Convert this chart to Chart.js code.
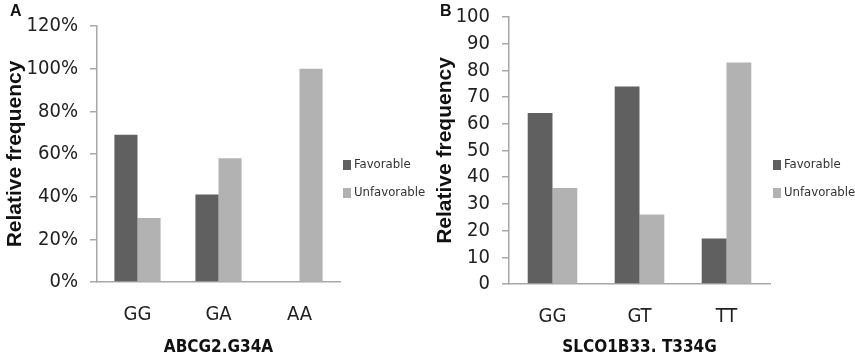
<!DOCTYPE html>
<html>
<head>
<meta charset="utf-8">
<script src="https://cdn.jsdelivr.net/npm/chart.js@4"></script>
<style>
  body { margin: 0; background: #fff; }
  .panel { position: absolute; top: 0; height: 362px; }
  .tag { position: absolute; top: 2px; font: bold 16px "Liberation Sans", Arial, sans-serif; color: #111; }
</style>
</head>
<body>
<div class="panel" style="left:0;width:430px;"><canvas id="chartA"></canvas></div>
<div class="panel" style="left:430px;width:425px;"><canvas id="chartB"></canvas></div>
<div class="tag" style="left:10px;">A</div>
<div class="tag" style="left:440px;">B</div>
<script>
// 패널 A 데이터 (ABCG2.G34A, %)
const genotypesA = ["GG", "GA", "AA"];
const favorableA = [69, 41, 0];
const unfavorableA = [30, 58, 100];
const ticksA = [0, 20, 40, 60, 80, 100, 120];

// 패널 B 데이터 (SLCO1B33. T334G)
const genotypesB = ["GG", "GT", "TT"];
const favorableB = [64, 74, 17];
const unfavorableB = [36, 26, 83];
const ticksB = [0, 10, 20, 30, 40, 50, 60, 70, 80, 90, 100];

const seriesNames = ["Favorable", "Unfavorable"];
const darkGray = "#606060";
const lightGray = "#b2b2b2";
const axisGray = "#a8a8a8";
const narrow = "'Liberation Sans Narrow', 'DejaVu Sans Condensed', sans-serif";

// 차트 오른쪽 범례 (엑셀 스타일)
const sideLegend = {
  id: "sideLegend",
  afterDraw(chart, args, o) {
    const ctx = chart.ctx;
    const x = chart.chartArea.right + o.dx;
    ctx.save();
    ctx.font = "13px " + narrow;
    ctx.textBaseline = "middle";
    ctx.textAlign = "left";
    chart.data.datasets.forEach((ds, i) => {
      const y = o.y0 + i * o.gap;
      ctx.fillStyle = ds.backgroundColor;
      ctx.fillRect(x, y - 5, 8, 10);
      ctx.fillStyle = "#333";
      ctx.fillText(ds.label, x + 11, y);
    });
    ctx.restore();
  }
};

// 막대 차트 하나 생성
function drawPanel(canvasId, labels, fav, unfav, tickVals, suffix, xTitle, opt) {
  const ctx = document.getElementById(canvasId).getContext("2d");
  return new Chart(ctx, {
    type: "bar",
    data: {
      labels: labels,
      datasets: [
        { label: seriesNames[0], data: fav, backgroundColor: darkGray },
        { label: seriesNames[1], data: unfav, backgroundColor: lightGray }
      ]
    },
    plugins: [sideLegend],
    options: {
      responsive: true,
      maintainAspectRatio: false,
      animation: false,
      layout: { padding: { top: opt.top, right: opt.right, left: 0, bottom: 0 } },
      datasets: { bar: { barPercentage: 1.0, categoryPercentage: 0.57 } },
      plugins: {
        tooltip: { enabled: false },
        legend: { display: false },
        sideLegend: { dx: 3, y0: 165, gap: 28 }
      },
      scales: {
        x: {
          grid: { display: true, drawOnChartArea: false, drawTicks: false },
          border: { color: axisGray, width: 1.5 },
          ticks: { padding: 21, color: "#222", font: { family: narrow, size: 20 } },
          title: {
            display: true,
            text: xTitle,
            color: "#111",
            padding: { top: 0, bottom: 4 },
            font: { family: narrow, size: 17, weight: "bold" }
          },
          afterFit: (scale) => { scale.height = opt.xHeight; }
        },
        y: {
          min: tickVals[0],
          max: tickVals[tickVals.length - 1],
          afterBuildTicks: (scale) => { scale.ticks = tickVals.map(v => ({ value: v })); },
          grid: { drawOnChartArea: false, drawTicks: true, tickLength: 7, color: axisGray, lineWidth: 1.5 },
          border: { color: axisGray, width: 1.5 },
          ticks: {
            autoSkip: false,
            padding: 12,
            color: "#222",
            font: { family: narrow, size: 20 },
            callback: (v) => v + suffix
          },
          title: {
            display: true,
            text: "Relative frequency",
            color: "#111",
            padding: { top: 3, bottom: 0 },
            font: { family: "'Liberation Sans', Arial, sans-serif", size: 21, weight: "bold" }
          },
          afterFit: (scale) => {
            scale.width = opt.yWidth;
            scale.paddingTop = 10;
            scale.paddingBottom = 10;
          }
        }
      }
    }
  });
}

drawPanel("chartA", genotypesA, favorableA, unfavorableA, ticksA, "%", "ABCG2.G34A",
  { top: 26, right: 90, xHeight: 80, yWidth: 97 });
drawPanel("chartB", genotypesB, favorableB, unfavorableB, ticksB, "", "SLCO1B33. T334G",
  { top: 17, right: 85, xHeight: 78, yWidth: 79 });
</script>
</body>
</html>
